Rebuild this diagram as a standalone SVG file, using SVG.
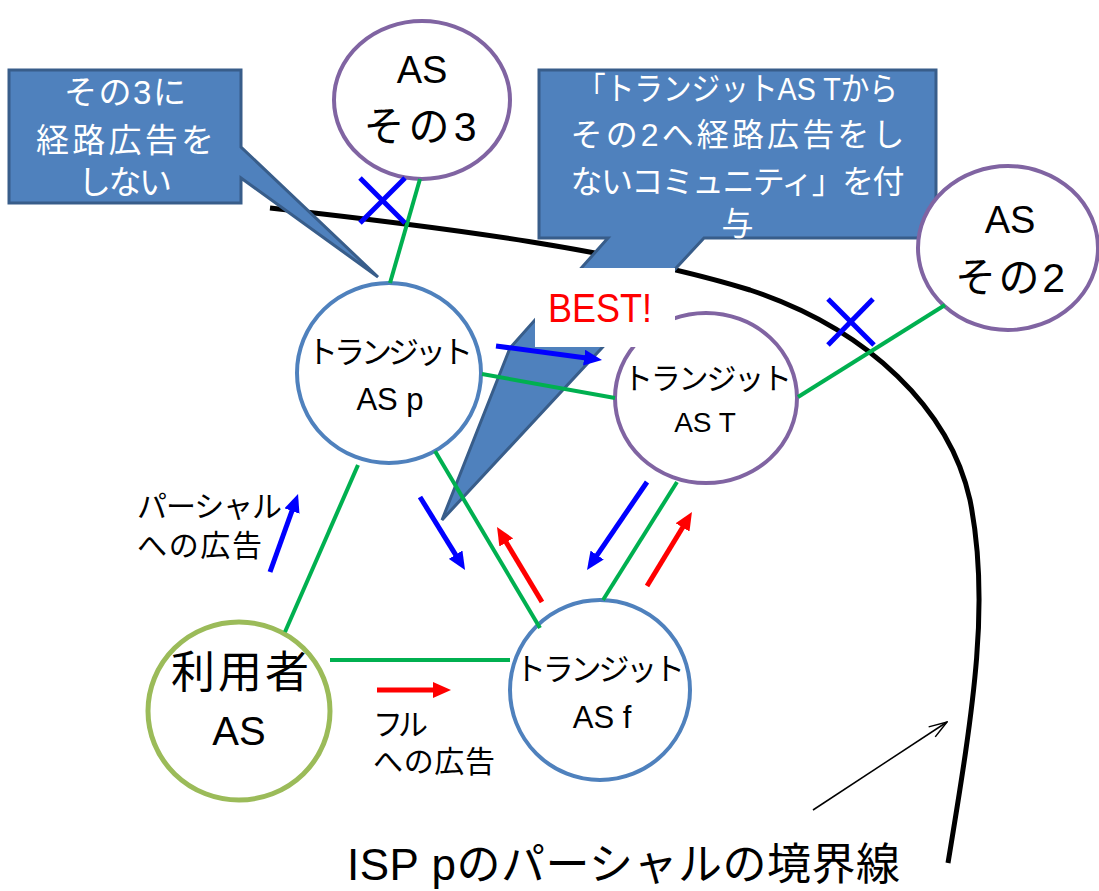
<svg xmlns="http://www.w3.org/2000/svg" width="1099" height="891" viewBox="0 0 1099 891">
<defs>
<style>
.t{font-family:"Liberation Sans","Noto Sans CJK JP","Noto Sans CJK SC",sans-serif;fill:#000}
.w{fill:#fff}
.callout{fill:#4F81BD;stroke:#385D8A;stroke-width:3;stroke-linejoin:miter}
.node{fill:#fff;stroke-width:4}
.nb{stroke:#4F81BD}
.np{stroke:#8064A2}
.ng{stroke:#9BBB59;stroke-width:5}
.link{stroke:#00B050;stroke-width:4;fill:none}
.ab{stroke:#0000FF;stroke-width:5;fill:none;marker-end:url(#hb)}
.ar{stroke:#FF0000;stroke-width:5;fill:none;marker-end:url(#hr)}
.x{stroke:#0000FF;stroke-width:5}
</style>
<marker id="hb" viewBox="0 0 18 16" refX="4" refY="8" markerWidth="18" markerHeight="16" markerUnits="userSpaceOnUse" orient="auto"><path d="M0,0 L18,8 L0,16 Z" fill="#0000FF"/></marker>
<marker id="hr" viewBox="0 0 18 16" refX="4" refY="8" markerWidth="18" markerHeight="16" markerUnits="userSpaceOnUse" orient="auto"><path d="M0,0 L18,8 L0,16 Z" fill="#FF0000"/></marker>
<marker id="ho" viewBox="0 0 20 14" refX="19" refY="7" markerWidth="20" markerHeight="14" markerUnits="userSpaceOnUse" orient="auto"><path d="M1,1 L19,7 L1,13" fill="none" stroke="#000" stroke-width="1.5"/></marker>
</defs>
<rect width="1099" height="891" fill="#fff"/>

<g id="boundary">
<path d="M270,208 C450,228 620,250 750,290 C870,330 950,410 970,500 C990,600 975,700 948,863" fill="none" stroke="#000" stroke-width="5"/>
</g>

<g id="callout-left">
<path class="callout" d="M9,70 H241 V147 L378,277 L241,178 V203 H9 Z"/>
<text class="t w" x="125" y="104" font-size="33" text-anchor="middle" textLength="122">その3に</text>
<text class="t w" x="125" y="152" font-size="33" text-anchor="middle" textLength="178">経路広告を</text>
<text class="t w" x="125" y="194" font-size="33" text-anchor="middle" textLength="94">しない</text>
</g>

<g id="callout-right">
<path class="callout" d="M539,70 H936 V238 H704 L442,520 L510,348 L608,238 H539 Z"/>
<text class="t w" x="737.5" y="100" font-size="32" text-anchor="middle" textLength="321" lengthAdjust="spacingAndGlyphs">「トランジットAS Tから</text>
<text class="t w" x="737.5" y="146" font-size="32" text-anchor="middle" textLength="334">その2へ経路広告をし</text>
<text class="t w" x="737.5" y="193" font-size="32" text-anchor="middle" textLength="334">ないコミュニティ」を付</text>
<text class="t w" x="737.5" y="235" font-size="32" text-anchor="middle">与</text>
</g>

<g id="node-as3">
<ellipse class="node np" cx="422" cy="100" rx="88" ry="79"/>
<text class="t" x="422" y="83" font-size="38" text-anchor="middle">AS</text>
<text class="t" x="420" y="141" font-size="41" text-anchor="middle" textLength="113">その3</text>
</g>

<g id="node-as2">
<ellipse class="node np" cx="1008" cy="248" rx="90" ry="82"/>
<text class="t" x="1010" y="233" font-size="38" text-anchor="middle">AS</text>
<text class="t" x="1010" y="292" font-size="41" text-anchor="middle" textLength="110">その2</text>
</g>

<g id="node-asp">
<ellipse class="node nb" cx="389" cy="373" rx="92" ry="90"/>
<text class="t" x="390" y="363" font-size="31" text-anchor="middle" textLength="166">トランジット</text>
<text class="t" x="390" y="410" font-size="31" text-anchor="middle">AS p</text>
</g>

<g id="node-ast">
<ellipse class="node np" cx="706" cy="398" rx="91" ry="85"/>
<text class="t" x="707.5" y="389" font-size="30" text-anchor="middle" textLength="169">トランジット</text>
<text class="t" x="705" y="432" font-size="28" text-anchor="middle">AS T</text>
</g>

<g id="node-asf">
<ellipse class="node nb" cx="600" cy="690" rx="90" ry="90"/>
<text class="t" x="600" y="680" font-size="31" text-anchor="middle" textLength="170">トランジット</text>
<text class="t" x="602" y="728" font-size="31" text-anchor="middle">AS f</text>
</g>

<g id="node-user">
<ellipse class="node ng" cx="239" cy="711" rx="91" ry="89"/>
<text class="t" x="240" y="688" font-size="44" text-anchor="middle" textLength="138">利用者</text>
<text class="t" x="239" y="745" font-size="40" text-anchor="middle">AS</text>
</g>

<g id="best">
<rect x="535" y="268" width="140" height="79" fill="#fff"/>
<text x="548" y="322" font-family="Liberation Sans, Arial, sans-serif" font-size="40" fill="#FF0000" textLength="104" lengthAdjust="spacingAndGlyphs">BEST!</text>
</g>

<g id="connectors">
<line class="link" x1="420" y1="179" x2="390" y2="283"/>
<line class="link" x1="482" y1="374" x2="615" y2="398"/>
<line class="link" x1="358" y1="465" x2="285" y2="632"/>
<line class="link" x1="435" y1="451" x2="540" y2="628"/>
<line class="link" x1="677" y1="482" x2="603" y2="600"/>
<line class="link" x1="798" y1="397" x2="945" y2="305"/>
<line class="link" x1="330" y1="660" x2="510" y2="660"/>

<line class="ab" x1="270" y1="572" x2="293.3" y2="507.2"/>
<line class="ab" x1="496" y1="346" x2="588.1" y2="358.2"/>
<line class="ab" x1="420" y1="497" x2="457.7" y2="558.1"/>
<line class="ab" x1="647" y1="482" x2="594.9" y2="558.4"/>
<line class="ar" x1="542" y1="602" x2="504.2" y2="539"/>
<line class="ar" x1="647" y1="586" x2="684.7" y2="524"/>
<line class="ar" x1="377" y1="690" x2="437" y2="690"/>

<line x1="813" y1="810" x2="947" y2="722" stroke="#000" stroke-width="1.5" marker-end="url(#ho)"/>

<line class="x" x1="360" y1="178" x2="405" y2="223"/>
<line class="x" x1="405" y1="178" x2="360" y2="223"/>
<line class="x" x1="828" y1="299" x2="874" y2="345"/>
<line class="x" x1="873" y1="299" x2="828" y2="345"/>
</g>

<g id="labels">
<text class="t" x="137" y="517" font-size="30" textLength="145">パーシャル</text>
<text class="t" x="137" y="556" font-size="30" textLength="125">への広告</text>
<text class="t" x="373" y="735" font-size="30" textLength="55">フル</text>
<text class="t" x="373" y="772" font-size="30" textLength="122">への広告</text>
<text class="t" x="347" y="880" font-size="44" textLength="553">ISP pのパーシャルの境界線</text>
</g>
</svg>
